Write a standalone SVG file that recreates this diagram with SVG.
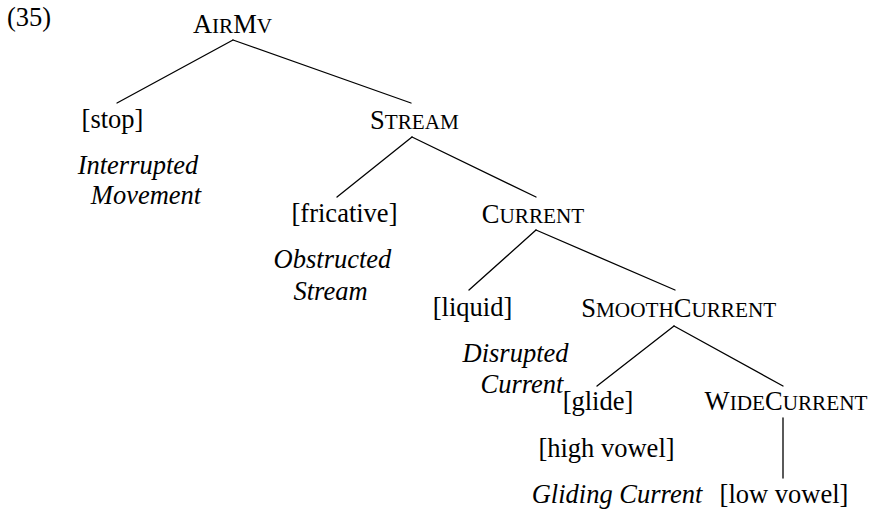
<svg xmlns="http://www.w3.org/2000/svg" width="874" height="513" viewBox="0 0 874 513">
  <style>
    text { font-family: "Liberation Serif", "Times New Roman", serif; font-size: 26.5px; fill: #000; }
    .c { text-anchor: middle; }
    .it { font-style: italic; }
    .sc { font-size: 21.2px; }
    .edge { stroke: #000; stroke-width: 1.3; fill: none; stroke-linecap: round; }
  </style>
  <rect width="874" height="513" fill="#fff"/>

  <text id="example-number" x="7" y="26">(35)</text>

  <g id="connectors">
    <line class="edge" x1="233" y1="40" x2="117" y2="103"/>
    <line class="edge" x1="233" y1="40" x2="411" y2="103"/>
    <line class="edge" x1="412" y1="137" x2="337" y2="197"/>
    <line class="edge" x1="412" y1="137" x2="536" y2="197"/>
    <line class="edge" x1="536" y1="230" x2="469" y2="290"/>
    <line class="edge" x1="536" y1="230" x2="675" y2="290"/>
    <line class="edge" x1="674" y1="326" x2="597" y2="386"/>
    <line class="edge" x1="674" y1="326" x2="783" y2="386"/>
    <line class="edge" x1="783" y1="418" x2="783" y2="478"/>
  </g>

  <g id="airmv">
    <text class="c" x="232.5" y="33">A<tspan class="sc">IR</tspan>M<tspan class="sc">V</tspan></text>
  </g>

  <g id="stop">
    <text class="c" x="112.5" y="128">[stop]</text>
    <text class="c it" x="138" y="174">Interrupted</text>
    <text class="c it" x="146" y="204">Movement</text>
  </g>

  <g id="stream">
    <text class="c" x="414.5" y="129">S<tspan class="sc">TREAM</tspan></text>
  </g>

  <g id="fricative">
    <text class="c" x="344.5" y="222">[fricative]</text>
    <text class="c it" x="332.5" y="268">Obstructed</text>
    <text class="c it" x="330.5" y="300">Stream</text>
  </g>

  <g id="current">
    <text class="c" x="533" y="223">C<tspan class="sc">URRENT</tspan></text>
  </g>

  <g id="liquid">
    <text class="c" x="472.5" y="316">[liquid]</text>
    <text class="c it" x="515.5" y="362">Disrupted</text>
    <text class="c it" x="522" y="393">Current</text>
  </g>

  <g id="smoothcurrent">
    <text class="c" x="678.7" y="317">S<tspan class="sc">MOOTH</tspan>C<tspan class="sc">URRENT</tspan></text>
  </g>

  <g id="glide">
    <text class="c" x="598" y="410">[glide]</text>
    <text class="c" x="606.5" y="457">[high vowel]</text>
    <text class="c it" x="617" y="503">Gliding Current</text>
  </g>

  <g id="widecurrent">
    <text class="c" x="786" y="410">W<tspan class="sc">IDE</tspan>C<tspan class="sc">URRENT</tspan></text>
  </g>

  <g id="low-vowel">
    <text class="c" x="784" y="503">[low vowel]</text>
  </g>
</svg>
